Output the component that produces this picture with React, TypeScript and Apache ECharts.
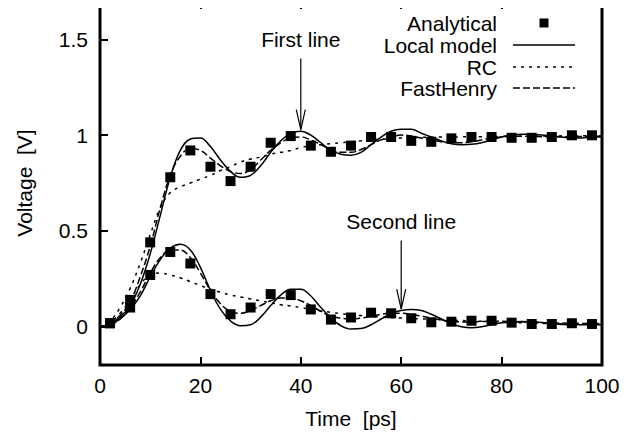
import React, { useEffect, useRef } from "react";
import * as echarts from "echarts";

// Time grid of the simulated curves [ps]
const curveTime = [
  0, 2, 4, 6, 8, 10, 12, 14, 16, 18, 20, 22, 24, 26, 28, 30, 32, 34, 36, 38, 40,
  42, 44, 46, 48, 50, 52, 54, 56, 58, 60, 62, 64, 66, 68, 70, 72, 74, 76, 78, 80,
  82, 84, 86, 88, 90, 92, 94, 96, 98, 100,
];
// Time of the analytical samples [ps]
const sampleTime = [
  2, 6, 10, 14, 18, 22, 26, 30, 34, 38, 42, 46, 50, 54, 58, 62, 66, 70, 74, 78,
  82, 86, 90, 94, 98,
];

const analyticalFirst = [
  0.018, 0.14, 0.44, 0.78, 0.92, 0.835, 0.76, 0.835, 0.96, 0.995, 0.945, 0.913,
  0.945, 0.99, 0.99, 0.97, 0.965, 0.983, 0.99, 0.99, 0.986, 0.986, 0.99, 0.999,
  0.999,
];
const analyticalSecond = [
  0.018, 0.1, 0.27, 0.39, 0.33, 0.17, 0.065, 0.1, 0.17, 0.165, 0.09, 0.037,
  0.048, 0.073, 0.07, 0.044, 0.023, 0.026, 0.031, 0.031, 0.021, 0.014, 0.014,
  0.018, 0.014,
];

const localFirst = [
  0, 0.015, 0.05, 0.11, 0.22, 0.38, 0.58, 0.78, 0.92, 0.98, 0.985, 0.94, 0.87,
  0.81, 0.78, 0.79, 0.84, 0.91, 0.97, 1.01, 1.02, 1.0, 0.96, 0.92, 0.9, 0.895,
  0.91, 0.95, 0.99, 1.02, 1.03, 1.03, 1.01, 0.99, 0.97, 0.955, 0.95, 0.952, 0.96,
  0.975, 0.99, 1.0, 1.005, 1.005, 1.0, 0.995, 0.99, 0.985, 0.985, 0.99, 0.99,
];
const localSecond = [
  0, 0.01, 0.04, 0.09, 0.16, 0.26, 0.35, 0.41, 0.43, 0.4, 0.31, 0.19, 0.09, 0.03,
  0.005, 0.01, 0.05, 0.11, 0.165, 0.195, 0.195, 0.16, 0.1, 0.045, 0.005, -0.012,
  -0.01, 0.01, 0.04, 0.07, 0.085, 0.09, 0.085, 0.065, 0.04, 0.015, 0.0, -0.005,
  0.0, 0.01, 0.02, 0.025, 0.027, 0.026, 0.022, 0.016, 0.012, 0.01, 0.01, 0.01,
  0.01,
];
const rcFirst = [
  0, 0.03, 0.1, 0.2, 0.33, 0.48, 0.62, 0.7, 0.73, 0.75, 0.77, 0.79, 0.815, 0.835,
  0.86, 0.875, 0.885, 0.9, 0.91, 0.92, 0.935, 0.945, 0.95, 0.955, 0.96, 0.965,
  0.97, 0.975, 0.978, 0.982, 0.985, 0.987, 0.988, 0.989, 0.99, 0.99, 0.991,
  0.992, 0.992, 0.993, 0.993, 0.994, 0.994, 0.995, 0.995, 0.995, 0.996, 0.996,
  0.996, 0.997, 0.997,
];
const rcSecond = [
  0, 0.02, 0.07, 0.14, 0.22, 0.27, 0.28, 0.27, 0.255, 0.235, 0.215, 0.195, 0.18,
  0.165, 0.155, 0.145, 0.135, 0.125, 0.115, 0.108, 0.1, 0.09, 0.082, 0.075,
  0.068, 0.062, 0.058, 0.054, 0.05, 0.047, 0.045, 0.043, 0.041, 0.039, 0.036,
  0.034, 0.032, 0.03, 0.028, 0.026, 0.024, 0.022, 0.02, 0.019, 0.017, 0.016,
  0.015, 0.014, 0.013, 0.012, 0.012,
];
const fastHenryFirst = [
  0, 0.015, 0.06, 0.13, 0.26, 0.42, 0.62, 0.79, 0.89, 0.93, 0.92, 0.88, 0.84,
  0.81, 0.8, 0.82, 0.87, 0.92, 0.96, 0.985, 0.99, 0.975, 0.95, 0.925, 0.91, 0.91,
  0.925, 0.95, 0.975, 0.99, 1.0, 0.995, 0.985, 0.975, 0.965, 0.96, 0.96, 0.965,
  0.975, 0.985, 0.99, 0.993, 0.994, 0.993, 0.992, 0.991, 0.991, 0.992, 0.993,
  0.994, 0.994,
];
const fastHenrySecond = [
  0, 0.01, 0.04, 0.1, 0.18, 0.28, 0.36, 0.4, 0.4, 0.36, 0.28, 0.19, 0.12, 0.08,
  0.07, 0.085, 0.11, 0.135, 0.15, 0.15, 0.135, 0.11, 0.08, 0.055, 0.045, 0.04,
  0.045, 0.055, 0.065, 0.07, 0.07, 0.065, 0.055, 0.045, 0.035, 0.028, 0.025,
  0.025, 0.027, 0.028, 0.028, 0.027, 0.025, 0.023, 0.021, 0.02, 0.019, 0.018,
  0.017, 0.016, 0.016,
];

const yTickValues = [0, 0.5, 1, 1.5];

const annotationLabels = ["First line", "Second line"];
const annotationX = [40, 60];
const annotationTextY = [1.5, 0.55];
const annotationFromY = [1.4, 0.45];
const annotationToY = [1.028, 0.092];

const legendNames = ["Analytical", "Local model", "RC", "FastHenry"];

const FONT = '"Liberation Sans", Arial, Helvetica, sans-serif';
const FS = 21;

const pair = (xs: number[], ys: number[]) => xs.map((x, i) => [x, ys[i]]);

export default function App() {
  const ref = useRef<HTMLDivElement>(null);

  useEffect(() => {
    if (!ref.current) return;
    const chart = echarts.init(ref.current, undefined, { renderer: "svg" });

    const lineSeries = (name: string, ys: number[], type: any) => ({
      type: "line",
      name,
      data: pair(curveTime, ys),
      showSymbol: false,
      symbol: "none",
      smooth: 0.4,
      lineStyle: { color: "#000", width: 1.5, type },
      silent: true,
      z: 3,
    });
    const scatterSeries = (ys: number[]) => ({
      type: "scatter",
      name: "Analytical",
      data: pair(sampleTime, ys),
      symbol: "rect",
      symbolSize: 10,
      itemStyle: { color: "#000", opacity: 1 },
      silent: true,
      z: 4,
    });

    const rcDash = [3, 5];
    const fhDash = [7, 3];

    chart.setOption({
      animation: false,
      textStyle: { fontFamily: FONT },
      grid: {
        left: 100,
        right: 35,
        top: 1,
        bottom: 73,
        show: true,
        borderColor: "#000",
        borderWidth: 3,
        backgroundColor: "transparent",
      },
      xAxis: [
        {
          type: "value",
          min: 0,
          max: 100,
          interval: 20,
          position: "bottom",
          name: "Time  [ps]",
          nameLocation: "middle",
          nameGap: 43,
          nameTextStyle: { fontSize: FS, color: "#000", fontFamily: FONT },
          axisLine: { show: false, onZero: false },
          axisTick: { show: true, inside: true, length: 8, lineStyle: { color: "#000", width: 2 } },
          axisLabel: { fontSize: FS, color: "#000", margin: 10, fontFamily: FONT },
          splitLine: { show: false },
        },
        {
          type: "value",
          min: 0,
          max: 100,
          interval: 20,
          position: "top",
          axisLine: { show: false, onZero: false },
          axisTick: { show: true, inside: true, length: 8, lineStyle: { color: "#000", width: 2 } },
          axisLabel: { show: false },
          splitLine: { show: false },
        },
      ],
      yAxis: {
        type: "value",
        min: -0.2,
        max: 1.7,
        name: "Voltage  [V]",
        nameLocation: "middle",
        nameRotate: 90,
        nameGap: 65,
        nameTextStyle: { fontSize: FS, color: "#000", fontFamily: FONT },
        axisLine: { show: false, onZero: false },
        axisTick: {
          show: true,
          inside: true,
          length: 8,
          customValues: yTickValues,
          lineStyle: { color: "#000", width: 2 },
        },
        axisLabel: {
          fontSize: FS,
          color: "#000",
          margin: 12,
          fontFamily: FONT,
          customValues: yTickValues,
        },
        splitLine: { show: false },
      },
      series: [
        lineSeries("Local model", localFirst, "solid"),
        lineSeries("Local model", localSecond, "solid"),
        lineSeries("RC", rcFirst, rcDash),
        lineSeries("RC", rcSecond, rcDash),
        lineSeries("FastHenry", fastHenryFirst, fhDash),
        lineSeries("FastHenry", fastHenrySecond, fhDash),
        scatterSeries(analyticalFirst),
        scatterSeries(analyticalSecond),
      ],
    });

    // Annotations and key, positioned through the chart's own scales
    const toPx = (x: number, y: number) =>
      chart.convertToPixel({ xAxisIndex: 0, yAxisIndex: 0 }, [x, y]) as number[];

    const elements: any[] = [];
    annotationLabels.forEach((label, i) => {
      const t = toPx(annotationX[i], annotationTextY[i]);
      const a = toPx(annotationX[i], annotationFromY[i]);
      const b = toPx(annotationX[i], annotationToY[i]);
      elements.push({
        type: "text",
        x: t[0],
        y: t[1],
        style: { text: label, fill: "#000", font: `${FS}px ${FONT}`, align: "center", verticalAlign: "middle" },
        z: 10,
      });
      elements.push({
        type: "line",
        shape: { x1: a[0], y1: a[1], x2: b[0], y2: b[1] },
        style: { stroke: "#000", lineWidth: 1.2 },
        z: 10,
      });
      elements.push({
        type: "polyline",
        shape: { points: [[b[0] - 4.5, b[1] - 20], [b[0], b[1]], [b[0] + 4.5, b[1] - 20]] },
        style: { stroke: "#000", lineWidth: 1.2, fill: null },
        z: 10,
      });
    });

    const keyTextRight = 497;
    const keyX1 = 513;
    const keyX2 = 575;
    const keyRows = [23, 45, 67, 88];
    const keyDash: any[] = [null, null, rcDash, fhDash];
    legendNames.forEach((name, i) => {
      elements.push({
        type: "text",
        x: keyTextRight,
        y: keyRows[i],
        style: { text: name, fill: "#000", font: `${FS}px ${FONT}`, align: "right", verticalAlign: "middle" },
        z: 10,
      });
      if (i === 0) {
        elements.push({
          type: "rect",
          shape: { x: (keyX1 + keyX2) / 2 - 4.5, y: keyRows[i] - 4.5, width: 9, height: 9 },
          style: { fill: "#000" },
          z: 10,
        });
      } else {
        elements.push({
          type: "line",
          shape: { x1: keyX1, y1: keyRows[i], x2: keyX2, y2: keyRows[i] },
          style: { stroke: "#000", lineWidth: 1.5, lineDash: keyDash[i] || undefined },
          z: 10,
        });
      }
    });

    chart.setOption({ graphic: { elements } });

    return () => chart.dispose();
  }, []);

  return <div ref={ref} style={{ width: 637, height: 438, margin: -8 }} />;
}
